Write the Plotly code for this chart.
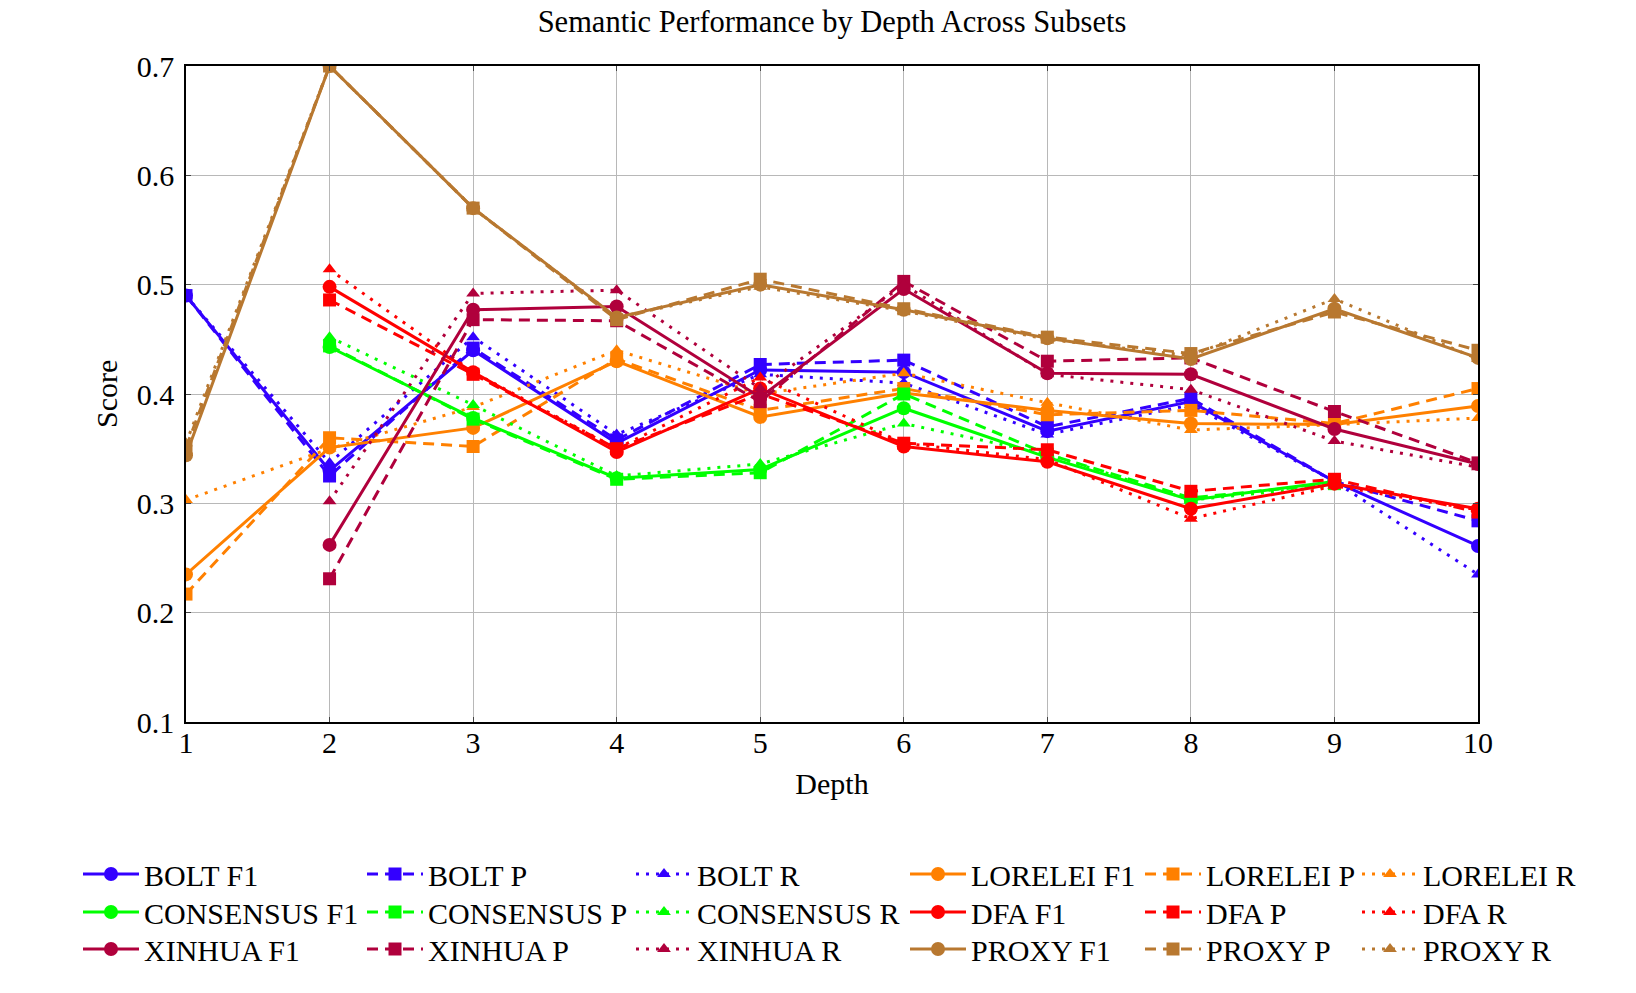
import plotly.graph_objects as go

# ---------------- data ----------------
depth = [1, 2, 3, 4, 5, 6, 7, 8, 9, 10]

bolt_f1 = [0.490, 0.330, 0.440, 0.355, 0.422, 0.420, 0.366, 0.393, 0.320, 0.261]
bolt_p = [0.490, 0.325, 0.442, 0.358, 0.427, 0.431, 0.370, 0.396, 0.320, 0.284]
bolt_r = [0.490, 0.337, 0.452, 0.363, 0.418, 0.410, 0.363, 0.390, 0.320, 0.235]

lorelei_f1 = [0.235, 0.351, 0.369, 0.430, 0.379, 0.401, 0.385, 0.373, 0.372, 0.389]
lorelei_p = [0.217, 0.360, 0.352, 0.432, 0.385, 0.405, 0.381, 0.385, 0.373, 0.405]
lorelei_r = [0.303, 0.350, 0.388, 0.440, 0.400, 0.419, 0.392, 0.367, 0.372, 0.378]

consensus_f1 = [None, 0.443, 0.378, 0.323, 0.331, 0.387, 0.342, 0.303, 0.320, None]
consensus_p = [None, 0.444, 0.377, 0.322, 0.328, 0.400, 0.345, 0.305, 0.318, None]
consensus_r = [None, 0.452, 0.390, 0.325, 0.336, 0.373, 0.345, 0.303, 0.316, None]

dfa_f1 = [None, 0.498, 0.420, 0.347, 0.405, 0.352, 0.338, 0.295, 0.318, 0.295]
dfa_p = [None, 0.486, 0.418, 0.350, 0.400, 0.355, 0.349, 0.311, 0.322, 0.292]
dfa_r = [None, 0.514, 0.420, 0.350, 0.415, 0.355, 0.340, 0.286, 0.316, 0.294]

xinhua_f1 = [None, 0.262, 0.477, 0.480, 0.397, 0.496, 0.419, 0.418, 0.368, 0.336]
xinhua_p = [None, 0.231, 0.468, 0.467, 0.393, 0.503, 0.430, 0.433, 0.384, 0.337]
xinhua_r = [None, 0.302, 0.492, 0.495, 0.405, 0.500, 0.418, 0.404, 0.357, 0.333]

proxy_f1 = [0.344, 0.700, 0.570, 0.470, 0.500, 0.477, 0.451, 0.432, 0.478, 0.433]
proxy_p = [0.351, 0.700, 0.570, 0.468, 0.505, 0.478, 0.452, 0.437, 0.475, 0.440]
proxy_r = [0.355, 0.700, 0.570, 0.470, 0.498, 0.476, 0.450, 0.435, 0.487, 0.432]

y_ticks = [0.1, 0.2, 0.3, 0.4, 0.5, 0.6, 0.7]
y_tick_labels = ["0.1", "0.2", "0.3", "0.4", "0.5", "0.6", "0.7"]

subsets = ["BOLT", "LORELEI", "CONSENSUS", "DFA", "XINHUA", "PROXY"]
metrics = ["F1", "P", "R"]
values = {
    "BOLT": [bolt_f1, bolt_p, bolt_r],
    "LORELEI": [lorelei_f1, lorelei_p, lorelei_r],
    "CONSENSUS": [consensus_f1, consensus_p, consensus_r],
    "DFA": [dfa_f1, dfa_p, dfa_r],
    "XINHUA": [xinhua_f1, xinhua_p, xinhua_r],
    "PROXY": [proxy_f1, proxy_p, proxy_r],
}

# ---------------- styles ----------------
colors = {
    "BOLT": "#3300ff",
    "LORELEI": "#ff8000",
    "CONSENSUS": "#00ff00",
    "DFA": "#ff0000",
    "XINHUA": "#b0003c",
    "PROXY": "#b87830",
}
dashes = {"F1": "solid", "P": "11px,7px", "R": "3px,7px"}
symbols = {"F1": "circle", "P": "square", "R": "triangle-up"}
msizes = {"F1": 14, "P": 13, "R": 12}
block_col = {"BOLT": 0, "CONSENSUS": 0, "XINHUA": 0, "LORELEI": 3, "DFA": 3, "PROXY": 3}
block_row = {"BOLT": 0, "LORELEI": 0, "CONSENSUS": 1, "DFA": 1, "XINHUA": 2, "PROXY": 2}

FONT = "Liberation Serif, Times New Roman, serif"
W, H = 1636, 993
ML, MR, MT, MB = 186, 158, 66, 271

# legend grid (px, container coords)
col_x = [78, 362, 631, 905, 1140, 1357]
row_y = [874, 912, 949]

legend_common = dict(
    orientation="v", xref="container", yref="container",
    yanchor="middle", xanchor="left",
    font=dict(family=FONT, size=30, color="black"),
    bgcolor="rgba(0,0,0,0)", borderwidth=0, itemwidth=56,
)

fig = go.Figure()
legends = {}
n = 0
for s in subsets:
    for mi, m in enumerate(metrics):
        n += 1
        key = "legend" if n == 1 else f"legend{n}"
        c = block_col[s] + mi
        r = block_row[s]
        legends[key] = dict(legend_common, x=col_x[c] / W, y=1 - row_y[r] / H)
        fig.add_trace(go.Scatter(
            x=depth, y=values[s][mi], name=f"{s} {m}",
            mode="lines+markers",
            line=dict(color=colors[s], width=3, dash=dashes[m]),
            marker=dict(symbol=symbols[m], size=msizes[m], color=colors[s]),
            legend=key,
        ))

axis_common = dict(
    showline=True, linecolor="black", linewidth=1.5, mirror="ticks",
    showgrid=True, gridcolor="#b8b8b8", gridwidth=1,
    ticks="inside", ticklen=5, tickcolor="#444", tickwidth=1,
    zeroline=False, automargin=True,
    tickfont=dict(family=FONT, size=30, color="black"),
)

fig.update_layout(
    width=W, height=H,
    margin=dict(l=ML, r=MR, t=MT, b=MB, autoexpand=False),
    paper_bgcolor="white", plot_bgcolor="white",
    title=dict(text="Semantic Performance by Depth Across Subsets",
               x=(ML + W - MR) / 2 / W, xanchor="center",
               yref="container", y=1 - 21 / H, yanchor="middle",
               font=dict(family=FONT, size=30.5, color="black")),
    xaxis=dict(axis_common, range=[1, 10], tickvals=depth,
               ticktext=[str(d) for d in depth], ticklabelstandoff=-7,
               title=dict(text="Depth", standoff=15,
                          font=dict(family=FONT, size=30, color="black"))),
    yaxis=dict(axis_common, range=[0.1, 0.7], tickvals=y_ticks,
               ticktext=y_tick_labels, ticklabelstandoff=4),
    annotations=[dict(text="Score", textangle=-90, showarrow=False,
                      xref="paper", yref="paper",
                      x=(106 - ML) / (W - ML - MR), y=0.5,
                      xanchor="center", yanchor="middle",
                      font=dict(family=FONT, size=30, color="black"))],
    showlegend=True,
    **legends,
)

fig.write_html("out.html", config={"displayModeBar": False},
               post_script="document.body.style.margin='0';")
